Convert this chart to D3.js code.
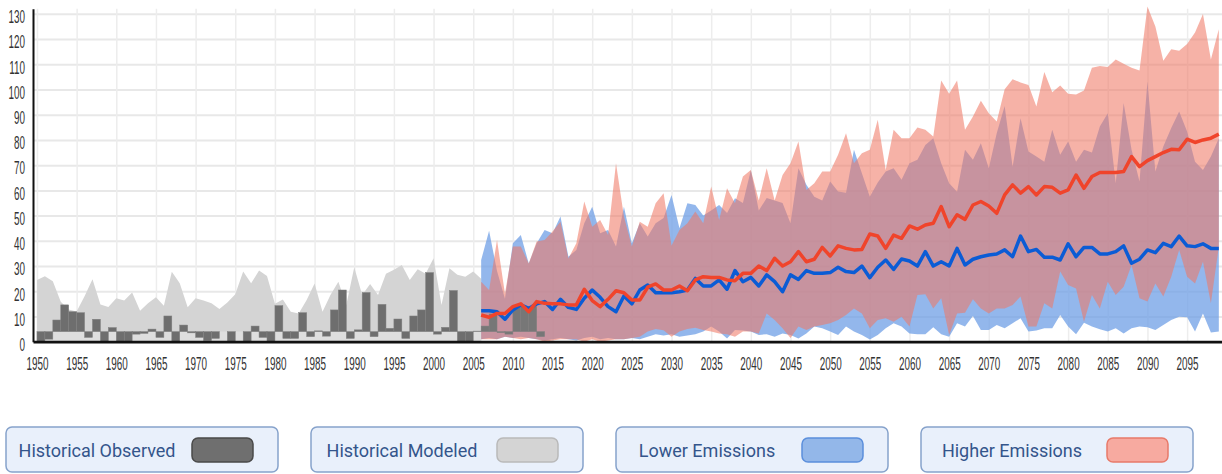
<!DOCTYPE html>
<html>
<head>
<meta charset="utf-8">
<script src="https://cdn.jsdelivr.net/npm/d3@7"></script>
<style>
  body { margin: 0; background: #fff; }
  svg { display: block; }
  .grid path { display: none; }
  .ygrid line { stroke: #e8e8e8; stroke-width: 2; }
  .xgrid line { stroke: #ededed; stroke-width: 1.5; }
  .axis text { font-family: "Liberation Sans", Arial, sans-serif; font-size: 18px; fill: #333; }
  .axis path { stroke: #111; }
</style>
</head>
<body>
<svg id="chart" width="1222" height="474"></svg>
<script>
// years
var histStart = 1950;
var futureStart = 2006;
var observedBase = 4;

// observed, drawn as bars up or down from observedBase (1950-2013)
var observed = [0, 1, 8.6, 14.6, 11.9, 11.5, 1.7, 8.9, 0, 5.6,
  0, 0, 3, 3.3, 5, 1.7, 10.2, 0, 6.6, 3.5,
  1.7, 0.4, 1.3, 4, 0, 4, 0, 6.2, 1.7, 0,
  14.3, 1.3, 1.3, 11.5, 2, 4.3, 2.2, 12.6, 20.5, 1.3,
  4.7, 19.5, 2, 14.8, 5.3, 9, 1.3, 10.2, 12.6, 27.4,
  3, 5.7, 20.3, 0, 0, 4.2, 6.2, 11, 3.6, 3,
  13.9, 13.9, 13.9, 2];

// historical modeled range top (1950-2006)
var modeledMax = [24.5, 26, 24, 15.8, 12.8, 12, 18, 24.8, 14.8, 13.8,
  17.2, 16.3, 19.5, 12.3, 15.2, 17.6, 14.3, 27.7, 23.2, 13.7,
  17.2, 16.3, 15.2, 13, 15.5, 18.8, 27.8, 23.2, 28.2, 26.1,
  15, 16.7, 11.9, 11.2, 16.5, 23.1, 11.9, 18.5, 23.8, 14.6,
  29.5, 18.5, 22.9, 18.5, 26.9, 28.5, 30.4, 24.5, 28.7, 26.9,
  33.1, 14.6, 29.1, 26.5, 25.8, 27.8, 25];

// lower emissions (2006-2099)
var lowerMin = [1, 1.5, 1, 2, 1.5, 2, 1.5, 1, 0.5, 1,
  1.5, 1, 0.5, 1.5, 2, 1, 1.5, 1, 1, 1.5,
  1, 2, 3, 2.5, 3, 2, 2.5, 3,
  4, 6, 4, 1.3, 4.6, 4.4, 4, 2.7, 3, 2,
  3.3, 2.7, 1.3, 3.3, 6, 5.3, 4, 2.7, 6, 4,
  2.7, 0.9, 2.7, 5.3, 7.3, 6, 3.3, 3, 3, 5.7,
  3, 2, 7.3, 6, 10.2, 4.6, 4.6, 6.6, 5.3, 7.3,
  9.3, 4, 4.4, 5.3, 5.3, 10.6, 6, 3, 7.5, 6,
  4.9, 4, 5.3, 3.3, 5.3, 6, 5.7, 4.6, 6.6, 8.6,
  9.9, 9.7, 4, 11.2, 3.6, 4];
var lowerMax = [32.4, 44, 28, 17, 39, 42.3, 31, 39, 44.3, 43,
  49.6, 33.7, 36.4, 47, 53.5, 43, 44.3, 37.7, 53.5, 39,
  47, 41.7, 47, 49, 58.2, 45, 54.9, 54.2, 50, 52,
  54.2, 51, 56.9, 55, 68, 52, 57, 56, 55, 47,
  68.8, 62.2, 57.5, 56, 63.5, 59.6, 59.1, 76.1, 66.8, 57.5,
  63.1, 67.5, 68.8, 64.2, 70.8, 72.1, 78, 80.7, 70.8, 62.8,
  59.5, 76.1, 72.1, 78.7, 68.8, 82.7, 93.5, 69.4, 88.6, 75.4,
  73.4, 71.4, 84, 74.1, 79.4, 71.4, 76.1, 75, 85.3, 90.6,
  62.8, 94.6, 76.1, 63.5, 103.2, 67.5, 77.4, 84.7, 91.3, 83.3,
  71.4, 68.1, 73.4, 80.7];
var lowerMean = [12.3, 12.3, 11.9, 8.9, 12.6, 14.6, 13.2, 15, 15.9, 12.8,
  16.8, 13.6, 12.8, 17.2, 20.5, 17.6, 13.9, 11.9, 18.1, 15,
  20.5, 22.5, 19.4, 19.4, 19.4, 19.8, 20.5, 25.1, 22.1, 22.1,
  24.5, 20.8, 28.2, 23.8, 25.5, 22.1, 26.5, 23.8, 19.8, 26.5,
  24.7, 28.2, 27.1, 27.1, 27.4, 29.5, 27.8, 27.4, 30, 25.4,
  29.5, 32.4, 28.7, 32.8, 32, 30, 35.7, 30, 31.7, 30,
  37, 30.4, 32.7, 33.7, 34.4, 34.8, 36.4, 33.7, 41.9, 35.7,
  36.6, 33.5, 33.5, 32.4, 38.8, 33.7, 37.4, 37.4, 34.8, 34.8,
  35.7, 38, 31.1, 32.7, 36.4, 35.3, 39, 37.7, 41.9, 38,
  37.7, 38.8, 37, 37];

// higher emissions (2006-2099)
var higherMin = [1, 1, 1, 2, 1.5, 1, 1.5, 1, 0, 0.5,
  1, 1, 1, 0, 1, 0, 0.5, 1, 1, 1.5,
  2, 4, 5, 4.5, 2, 4, 5, 5.5,
  4.6, 4, 3.3, 3, 2, 4, 4, 3.3, 11.2, 8.6,
  5.3, 1.5, 6, 4.6, 6, 6.6, 7.3, 8.6, 10.6, 13.2,
  11.2, 5.3, 8.6, 9.3, 7.9, 9.9, 6, 18.5, 18.8, 13.2,
  17.2, 2.7, 11.2, 11.5, 16.8, 13.2, 11.2, 13.2, 13.2, 14.6,
  17.9, 6, 6, 15.2, 13.2, 27.8, 22.5, 21.1, 7.9, 18.5,
  13.2, 23.8, 18.5, 21.8, 30.4, 17.2, 15.9, 23.1, 17.9, 25.8,
  36.4, 25.8, 23.1, 31.7, 15.2, 37.7];
var higherMax = [23.8, 20.5, 40.3, 19, 37.7, 37.7, 31, 39.7, 40.3, 43.7,
  47.6, 33, 39, 55.6, 45.6, 48.3, 42.3, 70.8, 49.6, 37.7,
  47.6, 45.6, 54.9, 58.9, 38, 44.3, 47, 51.6, 47, 61.5,
  48.3, 60.8, 54.9, 65.5, 68.1, 56, 68.8, 56, 66.1, 70.8,
  79.4, 60.2, 62.8, 67.5, 67.5, 74.1, 82.7, 70.8, 74.7, 76.1,
  88, 68.1, 84, 80.7, 80.7, 84.9, 84, 81.4, 103.6, 98.3,
  103.6, 84, 89.3, 95.5, 90.6, 87.3, 100.1, 104.1, 102.8, 101.8,
  93.3, 106.9, 98.9, 101.6, 98.3, 98, 99.6, 108.6, 109.3, 108.9,
  111.9, 110.2, 108.6, 107.5, 132.9, 125, 111.4, 116, 115.4, 118,
  122.6, 129.9, 111.9, 123.9];
var higherMean = [10.6, 9.7, 11.2, 11.2, 13.9, 15, 11.9, 15.9, 15.2, 15,
  15, 14.6, 14.6, 20.8, 16.3, 13.9, 16.8, 20.2, 19.4, 16.5,
  16.5, 21.6, 22.9, 20.5, 20.5, 22.1, 20.2, 24.5, 25.8, 25.5,
  25.5, 24.5, 24.2, 27.1, 27.1, 30, 28.2, 33.1, 30, 31.7,
  35.7, 31.7, 32.7, 37.4, 34, 38, 37, 36.4, 36.6, 42.7,
  41.9, 37, 42.3, 41, 45.9, 44.6, 46.3, 47, 53.6, 45.6,
  50.3, 48.5, 54.2, 55.6, 53.8, 50.9, 58.2, 62.2, 58.9, 61.5,
  58.2, 61.5, 61.2, 58.9, 60.2, 66.1, 60.8, 65.5, 67.1, 67.1,
  67.1, 67.5, 73.4, 69.4, 71.8, 73.4, 75, 76.3, 76.1, 80.3,
  79, 80, 80.7, 82.3];

var xTicks = d3.range(1950, 2100, 5);
var yTicks = d3.range(0, 131, 10);

var legendLabels = ['Historical Observed', 'Historical Modeled', 'Lower Emissions', 'Higher Emissions'];
var legendFill = ['#6f6f6f', '#d4d4d4', '#93b7e9', '#f7aaa0'];
var legendStroke = ['#4a4a4a', '#b9b9b9', '#5b8fdc', '#e87a69'];

var svg = d3.select('#chart');
var plot = {left: 33, right: 1222, top: 8.8, bottom: 341.7};

var xScale = d3.scaleLinear().domain([1949.5, 2099.4]).range([plot.left, plot.right]);
var yScale = d3.scaleLinear().domain([0, 132]).range([plot.bottom, plot.top]);

// grid
svg.append('g').attr('class', 'grid ygrid')
  .attr('transform', 'translate(' + plot.left + ',0)')
  .call(d3.axisLeft(yScale).tickValues(yTicks.slice(1)).tickSize(-(plot.right - plot.left)).tickFormat(''));
svg.append('g').attr('class', 'grid xgrid')
  .attr('transform', 'translate(0,' + plot.bottom + ')')
  .call(d3.axisBottom(xScale).tickValues(xTicks).tickSize(-(plot.bottom - plot.top)).tickFormat(''));

// data rows
var histData = modeledMax.map(function(v, i) { return {year: histStart + i, max: v}; });
var obsData = observed.map(function(v, i) { return {year: histStart + i, value: v}; });
var futureData = lowerMin.map(function(v, i) {
  return {
    year: futureStart + i,
    lMin: v, lMax: lowerMax[i], lMean: lowerMean[i],
    hMin: higherMin[i], hMax: higherMax[i], hMean: higherMean[i]
  };
});

// historical modeled band
svg.append('path').datum(histData)
  .attr('fill', '#d4d4d4')
  .attr('d', d3.area()
    .x(function(d) { return xScale(d.year); })
    .y0(yScale(0))
    .y1(function(d) { return yScale(d.max); }));

// below-baseline strip of modeled band is a touch lighter
svg.append('path').datum(histData)
  .attr('fill', '#dedede')
  .attr('d', d3.area()
    .x(function(d) { return xScale(d.year); })
    .y0(yScale(0))
    .y1(yScale(observedBase)));

// future bands
svg.append('path').datum(futureData)
  .attr('fill', '#6f9fe6').attr('fill-opacity', 0.75)
  .attr('d', d3.area()
    .x(function(d) { return xScale(d.year); })
    .y0(function(d) { return yScale(d.lMin); })
    .y1(function(d) { return yScale(d.lMax); }));
svg.append('path').datum(futureData)
  .attr('fill', '#f07864').attr('fill-opacity', 0.57)
  .attr('d', d3.area()
    .x(function(d) { return xScale(d.year); })
    .y0(function(d) { return yScale(d.hMin); })
    .y1(function(d) { return yScale(d.hMax); }));

// observed bars
svg.append('g').selectAll('rect').data(obsData).enter().append('rect')
  .attr('x', function(d) { return xScale(d.year); })
  .attr('width', function(d) { return xScale(d.year + 1) - xScale(d.year); })
  .attr('y', function(d) { return yScale(Math.max(d.value, observedBase)); })
  .attr('height', function(d) { return Math.abs(yScale(d.value) - yScale(observedBase)); })
  .attr('fill', function(d) { return d.year >= futureStart ? '#777777' : '#6e6e6e'; })
  .attr('stroke', '#808080')
  .attr('stroke-width', 0.5);

// mean lines
var lowLine = d3.line().x(function(d) { return xScale(d.year); }).y(function(d) { return yScale(d.lMean); });
var highLine = d3.line().x(function(d) { return xScale(d.year); }).y(function(d) { return yScale(d.hMean); });
svg.append('path').datum(futureData)
  .attr('fill', 'none').attr('stroke', '#0b5cd5').attr('stroke-width', 3.5)
  .attr('stroke-linejoin', 'round').attr('d', lowLine);
svg.append('path').datum(futureData)
  .attr('fill', 'none').attr('stroke', '#f0442b').attr('stroke-width', 3.5)
  .attr('stroke-linejoin', 'round').attr('d', highLine);

// axes
var xAxis = svg.append('g').attr('class', 'axis')
  .attr('transform', 'translate(0,' + plot.bottom + ')')
  .call(d3.axisBottom(xScale).tickValues(xTicks).tickFormat(d3.format('d')).tickSize(0).tickSizeOuter(0));
xAxis.select('.domain').attr('stroke-width', 2.8);
xAxis.selectAll('text').attr('y', 15.5).attr('transform', 'scale(0.55,1)');

var yAxis = svg.append('g').attr('class', 'axis')
  .attr('transform', 'translate(' + plot.left + ',0)')
  .call(d3.axisLeft(yScale).tickValues(yTicks).tickSize(0).tickSizeOuter(0));
yAxis.select('.domain').attr('stroke-width', 2);
yAxis.selectAll('text').attr('x', -8 / 0.55).attr('dy', '0.49em').attr('transform', 'scale(0.55,1)');

// legend
var legend = svg.append('g').selectAll('g').data(legendLabels).enter().append('g')
  .attr('transform', function(d, i) { return 'translate(' + (6 + i * 305) + ',427)'; });
legend.append('rect')
  .attr('width', 272).attr('height', 45).attr('rx', 6)
  .attr('fill', '#e9f0fb').attr('stroke', '#86a2cb').attr('stroke-width', 1.5);
legend.append('text')
  .attr('x', 91).attr('y', 29.5)
  .attr('text-anchor', 'middle')
  .style('font-family', 'Roboto, "Open Sans", sans-serif')
  .style('font-size', '18px')
  .style('fill', '#34558b')
  .text(function(d) { return d; });
legend.append('rect')
  .attr('x', 186).attr('y', 11).attr('width', 61).attr('height', 24).attr('rx', 6)
  .attr('fill', function(d, i) { return legendFill[i]; })
  .attr('stroke', function(d, i) { return legendStroke[i]; })
  .attr('stroke-width', 1.5);
</script>
</body>
</html>
